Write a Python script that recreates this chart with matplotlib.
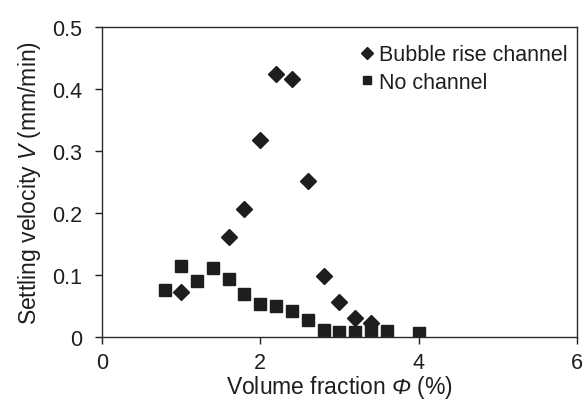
import numpy as np
import matplotlib.pyplot as plt

plt.rcParams['font.family'] = ['Liberation Sans', 'DejaVu Sans']
plt.rcParams['mathtext.fontset'] = 'custom'
plt.rcParams['mathtext.rm'] = 'Liberation Sans'
plt.rcParams['mathtext.it'] = 'Liberation Sans:italic'
# capital Greek is forced upright under \mathit, so slant it through \mathsf
plt.rcParams['mathtext.sf'] = 'Liberation Sans:italic'

# settling velocity (mm/min) against volume fraction (%)
phi_channel = [1.0, 1.6, 1.8, 2.0, 2.2, 2.4, 2.6, 2.8, 3.0, 3.2, 3.4]
v_channel = [0.072, 0.162, 0.207, 0.318, 0.424, 0.416, 0.252, 0.098, 0.056, 0.030, 0.022]

phi_none = [0.8, 1.0, 1.2, 1.4, 1.6, 1.8, 2.0, 2.2, 2.4, 2.6, 2.8, 3.0, 3.2, 3.4, 3.6, 4.0]
v_none = [0.075, 0.114, 0.090, 0.112, 0.093, 0.070, 0.053, 0.050, 0.042, 0.028,
          0.012, 0.008, 0.008, 0.011, 0.010, 0.006]

x_ticks = [0, 2, 4, 6]
y_ticks = [0, 0.1, 0.2, 0.3, 0.4, 0.5]

ink = '#1e1e1e'

fig = plt.figure(figsize=(5.85, 4.06), dpi=100)
ax = fig.add_axes([0.1744, 0.1675, 0.8116, 0.7635])

ax.plot(phi_channel, v_channel, linestyle='none', marker='D', markersize=7.7,
        color=ink, label='Bubble rise channel')
ax.plot(phi_none, v_none, linestyle='none', marker='s', markersize=8.3,
        color=ink, label='No channel')

ax.set_xlim(0, 6)
ax.set_ylim(0, 0.5)
ax.set_xticks(x_ticks)
ax.set_yticks(y_ticks)
ax.set_xticklabels([str(t) for t in x_ticks])
ax.set_yticklabels(['0'] + ['%.1f' % t for t in y_ticks[1:]])
ax.tick_params(direction='out', length=5, width=1, labelsize=15.5, colors=ink)
ax.tick_params(axis='x', pad=6)
ax.tick_params(axis='y', pad=9)

for s in ax.spines.values():
    s.set_color('#2a2a2a')
    s.set_linewidth(1.0)

ax.set_xlabel(r'Volume fraction $\mathsf{\Phi}$ (%)', fontsize=16.5, color=ink, labelpad=0)
ax.set_ylabel(r'Settling velocity $\mathit{V}$ (mm/min)', fontsize=16.5, color=ink, labelpad=7)

leg = ax.legend(loc='upper right', bbox_to_anchor=(1.016, 1.0), frameon=False,
                fontsize=15.5, handlelength=0.5, handletextpad=0.3,
                labelspacing=0.3, borderaxespad=0.5, borderpad=0.3)
leg.legend_handles[0].set_markersize(5.8)
leg.legend_handles[1].set_markersize(5.2)
for t in leg.get_texts():
    t.set_color(ink)

fig.savefig('out.png', dpi=100)
